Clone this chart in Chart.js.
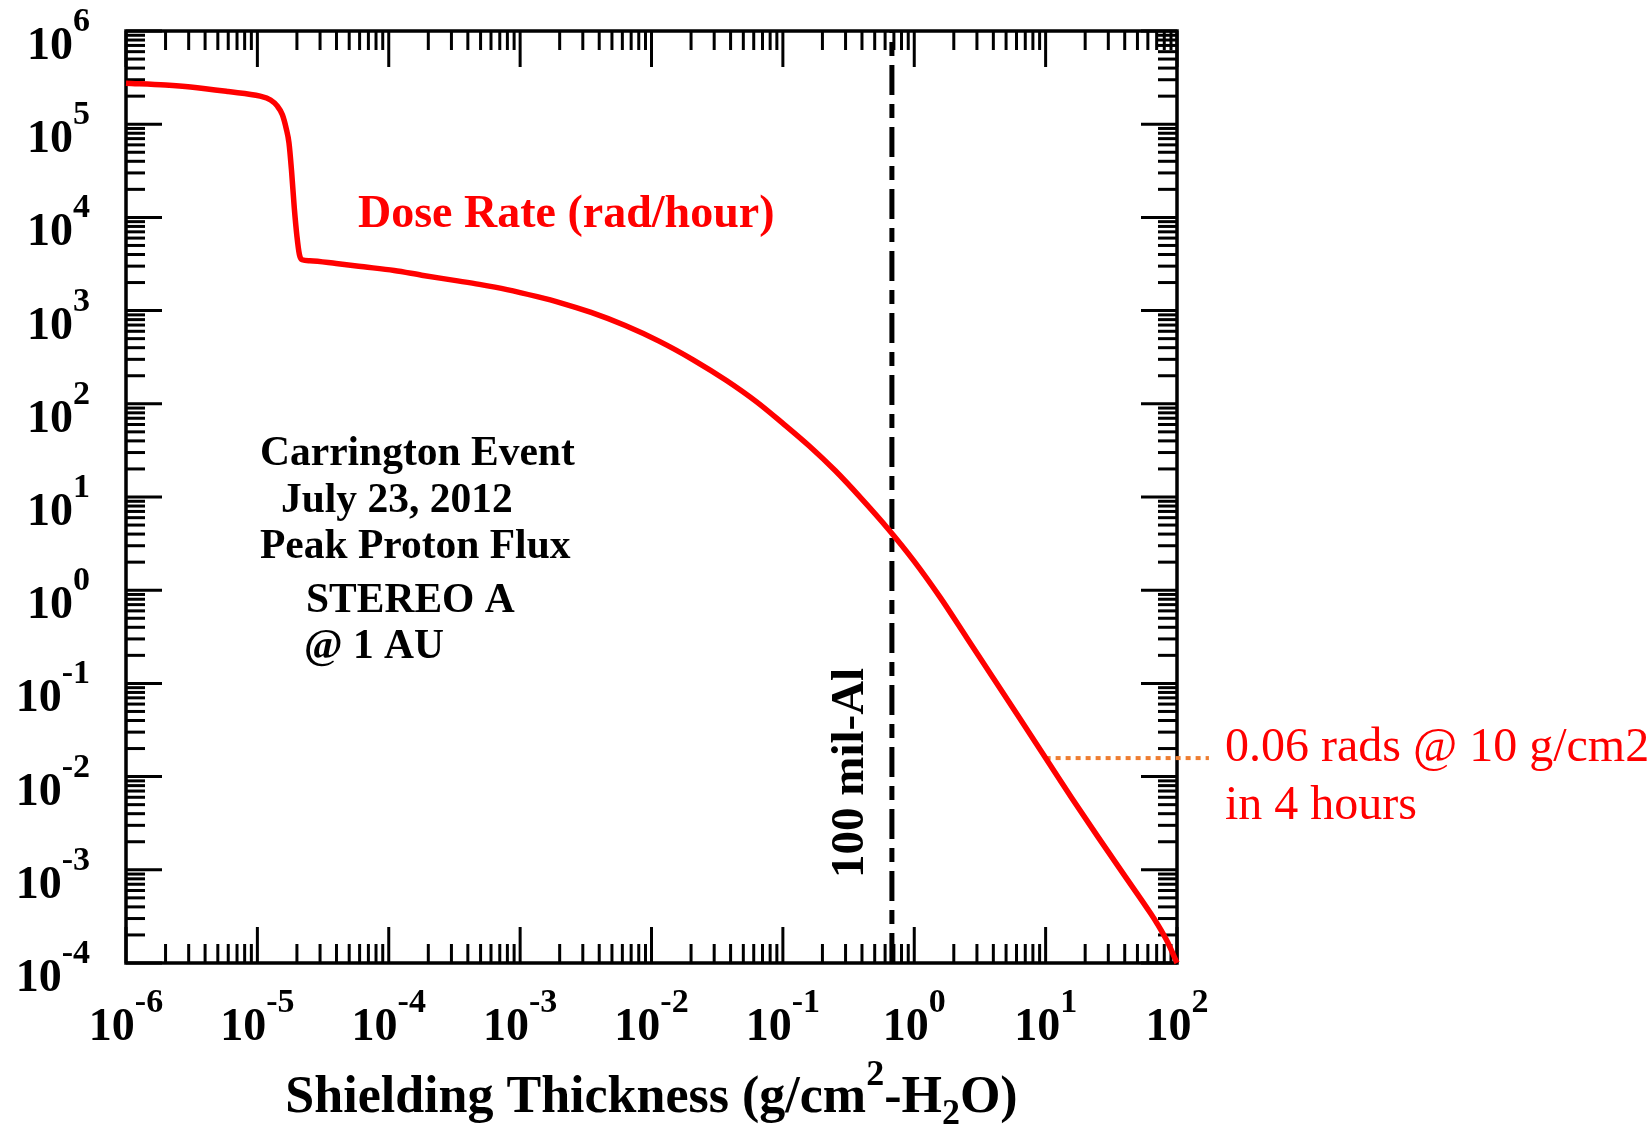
<!DOCTYPE html>
<html><head><meta charset="utf-8">
<script src="https://cdn.jsdelivr.net/npm/chart.js@4"></script>
<style>html,body{margin:0;padding:0;background:#fff}#wrap{position:relative;width:1652px;height:1125px}</style>
</head><body><div id="wrap"><canvas id="c"></canvas></div>
<script>
// Shielding thickness (g/cm2-H2O) and dose rate (rad/hour)
const shieldingThickness = [1.0e-6, 2.0e-6, 3.1e-6, 6.0e-6, 1.05e-5, 1.26e-5, 1.41e-5, 1.55e-5, 1.66e-5, 1.74e-5,
  1.82e-5, 1.91e-5, 2.0e-5, 2.09e-5, 2.19e-5, 2.51e-5, 3.98e-5, 6.46e-5, 1.1e-4, 1.78e-4,
  3.16e-4, 4.9e-4, 7.94e-4, 1.35e-3, 2.0e-3, 3.47e-3, 6.31e-3, 1.15e-2, 2.09e-2, 3.72e-2,
  0.0631, 0.1, 0.158, 0.251, 0.398, 0.631, 1.0, 1.58, 2.51, 3.98,
  6.31, 10, 15.8, 25.1, 39.8, 63.1, 70.8, 85.1, 100];
const doseRate = [2.75e5, 2.63e5, 2.51e5, 2.24e5, 2.0e5, 1.82e5, 1.58e5, 1.26e5, 8.9e4, 6.3e4,
  3.16e4, 1.26e4, 6.3e3, 3.98e3, 3.51e3, 3.43e3, 3.2e3, 2.95e3, 2.69e3, 2.4e3,
  2.11e3, 1.91e3, 1.68e3, 1.41e3, 1.22e3, 955, 692, 468, 295, 178,
  105, 61.7, 35.5, 19.1, 9.55, 4.57, 2.04, 0.832, 0.309, 0.115,
  0.0427, 0.0158, 5.89e-3, 2.24e-3, 8.71e-4, 3.39e-4, 2.63e-4, 1.66e-4, 1.0e-4];

const aluminum100mil = 0.676;           // g/cm2, vertical reference line
const markerThickness = [10, 175];      // orange dotted marker extent
const markerDose = 0.0158;              // rad/hour at 10 g/cm2
const xTickExponents = [-6, -5, -4, -3, -2, -1, 0, 1, 2];
const yTickExponents = [-4, -3, -2, -1, 0, 1, 2, 3, 4, 5, 6];
const minorMultipliers = [2, 3, 4, 5, 6, 7, 8, 9];

const SERIF = '"Liberation Serif", "Times New Roman", serif';
const MAJ = 36, MIN = 19;

function drawPow(ctx, exp, x, y, align) {
  const base = '10', sup = String(exp);
  ctx.font = 'bold 46px ' + SERIF;
  const wb = ctx.measureText(base).width;
  ctx.font = 'bold 34px ' + SERIF;
  const ws = ctx.measureText(sup).width;
  const w = wb + ws;
  let x0 = align === 'right' ? x - w : x - w / 2;
  ctx.textAlign = 'left';
  ctx.textBaseline = 'alphabetic';
  ctx.font = 'bold 46px ' + SERIF;
  ctx.fillText(base, x0, y);
  ctx.font = 'bold 34px ' + SERIF;
  ctx.fillText(sup, x0 + wb, y - 28);
}

const framePlugin = {
  id: 'frame',
  beforeDatasetsDraw(chart) {
    const { ctx, chartArea: a, scales: { x, y } } = chart;
    ctx.save();
    ctx.strokeStyle = '#000';
    ctx.lineWidth = 3;
    ctx.lineCap = 'butt';
    const seg = (x1, y1, x2, y2) => { ctx.beginPath(); ctx.moveTo(x1, y1); ctx.lineTo(x2, y2); ctx.stroke(); };
    xTickExponents.forEach((e, i) => {
      const p = x.getPixelForValue(Math.pow(10, e));
      seg(p, a.bottom, p, a.bottom - MAJ); seg(p, a.top, p, a.top + MAJ);
      if (i < xTickExponents.length - 1) minorMultipliers.forEach(m => {
        const q = x.getPixelForValue(m * Math.pow(10, e));
        seg(q, a.bottom, q, a.bottom - MIN); seg(q, a.top, q, a.top + MIN);
      });
    });
    yTickExponents.forEach((e, i) => {
      const p = y.getPixelForValue(Math.pow(10, e));
      seg(a.left, p, a.left + MAJ, p); seg(a.right, p, a.right - MAJ, p);
      if (i < yTickExponents.length - 1) minorMultipliers.forEach(m => {
        const q = y.getPixelForValue(m * Math.pow(10, e));
        seg(a.left, q, a.left + MIN, q); seg(a.right, q, a.right - MIN, q);
      });
    });
    ctx.lineWidth = 3.5;
    ctx.strokeRect(a.left, a.top, a.right - a.left, a.bottom - a.top);
    ctx.restore();
  },
  afterDraw(chart) {
    const { ctx, chartArea: a, scales: { x, y } } = chart;
    ctx.save();
    ctx.fillStyle = '#000';
    xTickExponents.forEach(e => drawPow(ctx, e, x.getPixelForValue(Math.pow(10, e)), a.bottom + 77, 'center'));
    yTickExponents.forEach(e => drawPow(ctx, e, a.left - 36, y.getPixelForValue(Math.pow(10, e)) + 28, 'right'));

    // x axis title with super/subscripts
    const parts = [
      ['Shielding Thickness (g/cm', 'bold 52px ', 0],
      ['2', 'bold 36px ', -27],
      ['-H', 'bold 52px ', 0],
      ['2', 'bold 36px ', 12],
      ['O)', 'bold 52px ', 0]
    ];
    let tw = 0;
    parts.forEach(p => { ctx.font = p[1] + SERIF; tw += ctx.measureText(p[0]).width; });
    let cx = (a.left + a.right) / 2 - tw / 2;
    ctx.textAlign = 'left';
    ctx.textBaseline = 'alphabetic';
    parts.forEach(p => { ctx.font = p[1] + SERIF; ctx.fillText(p[0], cx, 1112 + p[2]); cx += ctx.measureText(p[0]).width; });

    // Series label
    ctx.fillStyle = '#ff0000';
    ctx.font = 'bold 46px ' + SERIF;
    ctx.fillText('Dose Rate (rad/hour)', 358, 227);

    // Event description
    ctx.fillStyle = '#000';
    ctx.font = 'bold 41.5px ' + SERIF;
    ctx.fillText('Carrington Event', 260, 465);
    ctx.fillText('July 23, 2012', 281, 512);
    ctx.fillText('Peak Proton Flux', 260, 558);
    ctx.fillText('STEREO A', 306, 612);
    ctx.fillText('@ 1 AU', 304, 658);

    // Vertical label
    ctx.save();
    ctx.translate(x.getPixelForValue(aluminum100mil) - 29, 878);
    ctx.rotate(-Math.PI / 2);
    ctx.font = 'bold 47px ' + SERIF;
    ctx.fillText('100 mil-Al', 0, 0);
    ctx.restore();

    // Marker annotation
    ctx.fillStyle = '#ff0000';
    ctx.font = '48px ' + SERIF;
    ctx.fillText('0.06 rads @ 10 g/cm2', 1225, 761);
    ctx.fillText('in 4 hours', 1225, 819);
    ctx.restore();
  }
};

new Chart(document.getElementById('c'), {
  type: 'line',
  data: {
    datasets: [
      {
        label: 'Dose Rate (rad/hour)',
        data: shieldingThickness.map((t, i) => ({ x: t, y: doseRate[i] })),
        borderColor: '#ff0000',
        borderWidth: 5.5,
        pointRadius: 0,
        cubicInterpolationMode: 'monotone',
        clip: 6
      },
      {
        label: '100 mil-Al',
        data: [{ x: aluminum100mil, y: 1e-4 }, { x: aluminum100mil, y: 1e6 }],
        borderColor: '#000',
        borderWidth: 5,
        borderDash: [30, 9, 14, 9],
        pointRadius: 0
      },
      {
        label: 'marker',
        data: markerThickness.map(t => ({ x: t, y: markerDose })),
        borderColor: '#ED7D31',
        borderWidth: 4,
        borderDash: [5, 5],
        pointRadius: 0,
        clip: false
      }
    ]
  },
  options: {
    responsive: true,
    maintainAspectRatio: false,
    animation: false,
    layout: { padding: { left: 126, top: 31, right: 475, bottom: 162 } },
    plugins: { legend: { display: false }, tooltip: { enabled: false } },
    scales: {
      x: { type: 'logarithmic', min: 1e-6, max: 1e2, display: false },
      y: { type: 'logarithmic', min: 1e-4, max: 1e6, display: false }
    }
  },
  plugins: [framePlugin]
});
</script></body></html>
